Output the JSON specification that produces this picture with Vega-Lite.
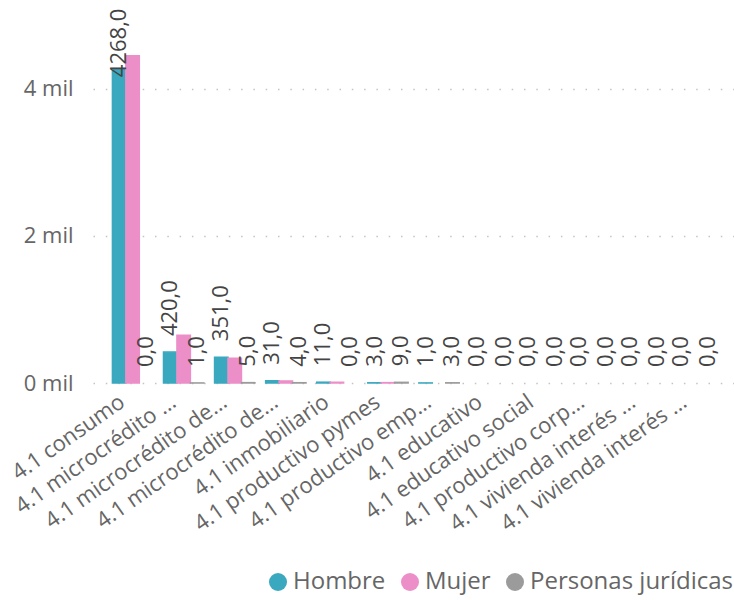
{
  "$schema": "https://vega.github.io/schema/vega-lite/v6.json",
  "autosize": {"type": "none"},
  "padding": {"left": 93, "top": 8, "right": 0, "bottom": 217},
  "width": 641,
  "height": 375,
  "background": "white",
  "config": {
    "font": "Open Sans",
    "view": {"stroke": null},
    "locale": {"number": {"decimal": ",", "thousands": ".", "grouping": [3], "currency": ["$", ""]}}
  },
  "data": {
    "values": [
      {"categoria": "4.1 consumo", "serie": "Hombre", "valor": 4268},
      {"categoria": "4.1 consumo", "serie": "Mujer", "valor": 4450},
      {"categoria": "4.1 consumo", "serie": "Personas jurídicas", "valor": 0},
      {"categoria": "4.1 microcrédito minorista", "serie": "Hombre", "valor": 420},
      {"categoria": "4.1 microcrédito minorista", "serie": "Mujer", "valor": 650},
      {"categoria": "4.1 microcrédito minorista", "serie": "Personas jurídicas", "valor": 1},
      {"categoria": "4.1 microcrédito de acumulación simple", "serie": "Hombre", "valor": 351},
      {"categoria": "4.1 microcrédito de acumulación simple", "serie": "Mujer", "valor": 335},
      {"categoria": "4.1 microcrédito de acumulación simple", "serie": "Personas jurídicas", "valor": 5},
      {"categoria": "4.1 microcrédito de acumulación ampliada", "serie": "Hombre", "valor": 31},
      {"categoria": "4.1 microcrédito de acumulación ampliada", "serie": "Mujer", "valor": 28},
      {"categoria": "4.1 microcrédito de acumulación ampliada", "serie": "Personas jurídicas", "valor": 4},
      {"categoria": "4.1 inmobiliario", "serie": "Hombre", "valor": 11},
      {"categoria": "4.1 inmobiliario", "serie": "Mujer", "valor": 10},
      {"categoria": "4.1 inmobiliario", "serie": "Personas jurídicas", "valor": 0},
      {"categoria": "4.1 productivo pymes", "serie": "Hombre", "valor": 3},
      {"categoria": "4.1 productivo pymes", "serie": "Mujer", "valor": 5},
      {"categoria": "4.1 productivo pymes", "serie": "Personas jurídicas", "valor": 9},
      {"categoria": "4.1 productivo empresarial", "serie": "Hombre", "valor": 1},
      {"categoria": "4.1 productivo empresarial", "serie": "Mujer", "valor": 0},
      {"categoria": "4.1 productivo empresarial", "serie": "Personas jurídicas", "valor": 3},
      {"categoria": "4.1 educativo", "serie": "Hombre", "valor": 0},
      {"categoria": "4.1 educativo", "serie": "Mujer", "valor": 0},
      {"categoria": "4.1 educativo", "serie": "Personas jurídicas", "valor": 0},
      {"categoria": "4.1 educativo social", "serie": "Hombre", "valor": 0},
      {"categoria": "4.1 educativo social", "serie": "Mujer", "valor": 0},
      {"categoria": "4.1 educativo social", "serie": "Personas jurídicas", "valor": 0},
      {"categoria": "4.1 productivo corporativo", "serie": "Hombre", "valor": 0},
      {"categoria": "4.1 productivo corporativo", "serie": "Mujer", "valor": 0},
      {"categoria": "4.1 productivo corporativo", "serie": "Personas jurídicas", "valor": 0},
      {"categoria": "4.1 vivienda interés público", "serie": "Hombre", "valor": 0},
      {"categoria": "4.1 vivienda interés público", "serie": "Mujer", "valor": 0},
      {"categoria": "4.1 vivienda interés público", "serie": "Personas jurídicas", "valor": 0},
      {"categoria": "4.1 vivienda interés social", "serie": "Hombre", "valor": 0},
      {"categoria": "4.1 vivienda interés social", "serie": "Mujer", "valor": 0},
      {"categoria": "4.1 vivienda interés social", "serie": "Personas jurídicas", "valor": 0}
    ]
  },
  "encoding": {
    "x": {
      "field": "categoria",
      "type": "nominal",
      "sort": null,
      "scale": {"paddingInner": 0.21, "paddingOuter": 0.38},
      "axis": {
        "title": null,
        "domain": false,
        "ticks": false,
        "labelAngle": -35,
        "labelFontSize": 22,
        "labelColor": "#666666",
        "labelPadding": 8,
        "labelOffset": -16,
        "labelLimit": 400,
        "labelOverlap": false,
        "labelExpr": "indexof(datum.label,'minorista')>=0 ? '4.1 microcrédito …' : indexof(datum.label,'microcrédito de')>=0 ? '4.1 microcrédito de…' : indexof(datum.label,'empresarial')>=0 ? '4.1 productivo emp…' : indexof(datum.label,'corporativo')>=0 ? '4.1 productivo corp…' : indexof(datum.label,'vivienda')>=0 ? '4.1 vivienda interés …' : datum.label"
      }
    },
    "xOffset": {
      "field": "serie",
      "type": "nominal",
      "sort": ["Hombre", "Mujer", "Personas jurídicas"],
      "scale": {"paddingInner": 0, "paddingOuter": 0}
    },
    "y": {
      "field": "valor",
      "type": "quantitative",
      "scale": {"domain": [0, 5100], "nice": false},
      "axis": {
        "title": null,
        "values": [0, 2000, 4000],
        "labelExpr": "(datum.value/1000) + ' mil'",
        "domain": false,
        "ticks": false,
        "labelFontSize": 22,
        "labelColor": "#666666",
        "labelPadding": 20,
        "gridColor": "#c4c4c4",
        "gridDash": [1.5, 10.8],
        "gridWidth": 1.5
      }
    }
  },
  "layer": [
    {
      "mark": {"type": "bar"},
      "encoding": {
        "fill": {
          "field": "serie",
          "type": "nominal",
          "scale": {"domain": ["Hombre", "Mujer", "Personas jurídicas"], "range": ["#3AA8BF", "#EC8FC8", "#9B9B9B"]},
          "legend": {
            "title": null,
            "orient": "none",
            "legendX": 173,
            "legendY": 562,
            "direction": "horizontal",
            "symbolType": "circle",
            "symbolSize": 324,
            "symbolStrokeWidth": 0,
            "labelFontSize": 24,
            "labelColor": "#666666",
            "labelOffset": 3,
            "columnPadding": 12,
            "labelLimit": 400
          }
        },
        "stroke": {
          "field": "serie",
          "type": "nominal",
          "scale": {"domain": ["Hombre", "Mujer", "Personas jurídicas"], "range": ["#3AA8BF", "#EC8FC8", "#9B9B9B"]},
          "legend": null
        },
        "strokeWidth": {"condition": {"test": "datum.valor > 0", "value": 1.5}, "value": 0}
      }
    },
    {
      "transform": [{"filter": "datum.serie != 'Mujer' && datum.valor < 4000"}],
      "mark": {"type": "text", "angle": -90, "align": "left", "baseline": "middle", "dx": 16, "fontSize": 22, "color": "#444444"},
      "encoding": {
        "text": {"field": "valor", "type": "quantitative", "format": ".1f"}
      }
    },
    {
      "transform": [{"filter": "datum.serie != 'Mujer' && datum.valor >= 4000"}],
      "mark": {"type": "text", "angle": -90, "align": "left", "baseline": "middle", "dx": -8, "fontSize": 22, "color": "#444444"},
      "encoding": {
        "text": {"field": "valor", "type": "quantitative", "format": ".1f"}
      }
    }
  ]
}
